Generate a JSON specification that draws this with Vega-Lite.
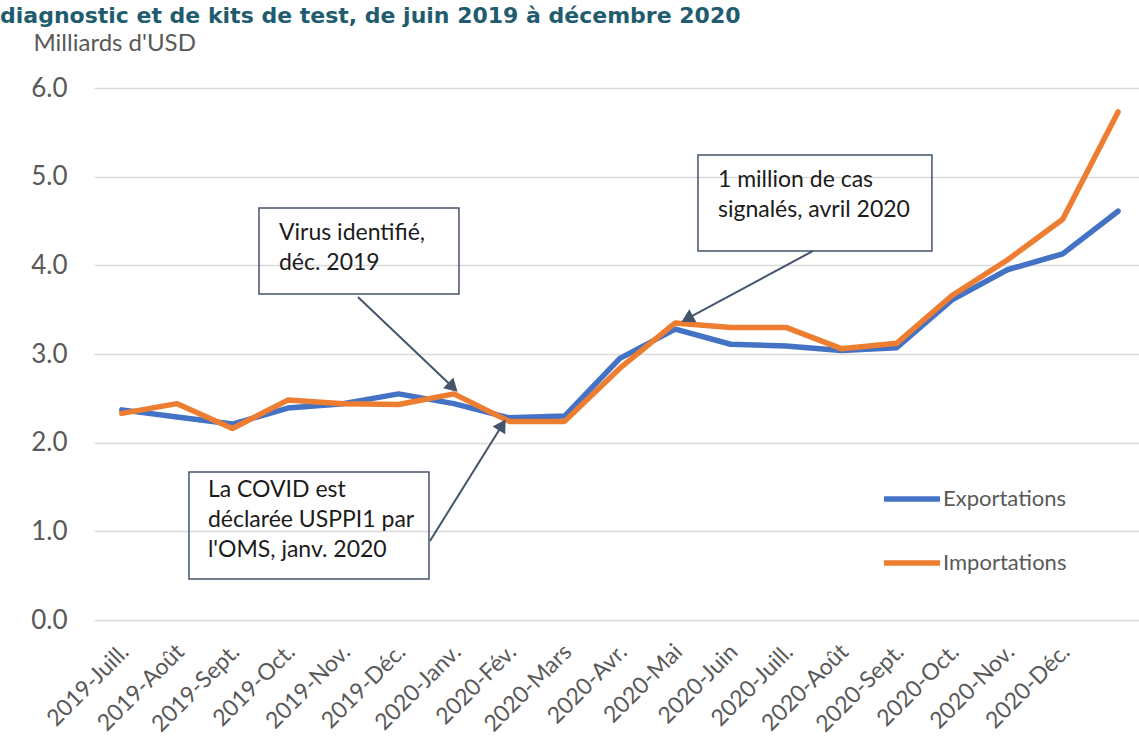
{
  "$schema": "https://vega.github.io/schema/vega-lite/v6.json",
  "width": 1045,
  "height": 532,
  "autosize": {"type": "none"},
  "padding": {"left": 94, "top": 88, "right": 0, "bottom": 120},
  "background": "white",
  "title": {
    "text": "diagnostic et de kits de test, de juin 2019 à décembre 2020",
    "anchor": "start",
    "frame": "group",
    "font": "DejaVu Sans",
    "fontSize": 22,
    "fontWeight": "bold",
    "color": "#1f5c6e",
    "baseline": "alphabetic",
    "dx": -94,
    "dy": 24,
    "offset": 10
  },
  "config": {
    "view": {"stroke": null},
    "font": "Lato",
    "legend": {
      "orient": "none",
      "legendX": 787,
      "legendY": 380,
      "title": null,
      "symbolType": "stroke",
      "symbolSize": 3136,
      "symbolStrokeWidth": 5.5,
      "labelFont": "Lato",
      "labelFontSize": 22,
      "labelColor": "#595959",
      "labelOffset": 0,
      "rowPadding": 22
    }
  },
  "datasets": {
    "series": [
      {"mois": "2019-Juill.", "serie": "Exportations", "valeur": 2.37},
      {"mois": "2019-Août", "serie": "Exportations", "valeur": 2.29},
      {"mois": "2019-Sept.", "serie": "Exportations", "valeur": 2.21},
      {"mois": "2019-Oct.", "serie": "Exportations", "valeur": 2.39},
      {"mois": "2019-Nov.", "serie": "Exportations", "valeur": 2.44},
      {"mois": "2019-Déc.", "serie": "Exportations", "valeur": 2.55},
      {"mois": "2020-Janv.", "serie": "Exportations", "valeur": 2.44},
      {"mois": "2020-Fév.", "serie": "Exportations", "valeur": 2.28},
      {"mois": "2020-Mars", "serie": "Exportations", "valeur": 2.30},
      {"mois": "2020-Avr.", "serie": "Exportations", "valeur": 2.95},
      {"mois": "2020-Mai", "serie": "Exportations", "valeur": 3.28},
      {"mois": "2020-Juin", "serie": "Exportations", "valeur": 3.11},
      {"mois": "2020-Juill.", "serie": "Exportations", "valeur": 3.09},
      {"mois": "2020-Août", "serie": "Exportations", "valeur": 3.04},
      {"mois": "2020-Sept.", "serie": "Exportations", "valeur": 3.07},
      {"mois": "2020-Oct.", "serie": "Exportations", "valeur": 3.61},
      {"mois": "2020-Nov.", "serie": "Exportations", "valeur": 3.95},
      {"mois": "2020-Déc.", "serie": "Exportations", "valeur": 4.13},
      {"mois": " ", "serie": "Exportations", "valeur": 4.61},
      {"mois": "2019-Juill.", "serie": "Importations", "valeur": 2.33},
      {"mois": "2019-Août", "serie": "Importations", "valeur": 2.44},
      {"mois": "2019-Sept.", "serie": "Importations", "valeur": 2.16},
      {"mois": "2019-Oct.", "serie": "Importations", "valeur": 2.48},
      {"mois": "2019-Nov.", "serie": "Importations", "valeur": 2.44},
      {"mois": "2019-Déc.", "serie": "Importations", "valeur": 2.43},
      {"mois": "2020-Janv.", "serie": "Importations", "valeur": 2.55},
      {"mois": "2020-Fév.", "serie": "Importations", "valeur": 2.24},
      {"mois": "2020-Mars", "serie": "Importations", "valeur": 2.24},
      {"mois": "2020-Avr.", "serie": "Importations", "valeur": 2.84},
      {"mois": "2020-Mai", "serie": "Importations", "valeur": 3.35},
      {"mois": "2020-Juin", "serie": "Importations", "valeur": 3.30},
      {"mois": "2020-Juill.", "serie": "Importations", "valeur": 3.30},
      {"mois": "2020-Août", "serie": "Importations", "valeur": 3.06},
      {"mois": "2020-Sept.", "serie": "Importations", "valeur": 3.12},
      {"mois": "2020-Oct.", "serie": "Importations", "valeur": 3.66},
      {"mois": "2020-Nov.", "serie": "Importations", "valeur": 4.06},
      {"mois": "2020-Déc.", "serie": "Importations", "valeur": 4.52},
      {"mois": " ", "serie": "Importations", "valeur": 5.73}
    ],
    "boites": [
      {"x1": 2.481, "x2": 6.094, "y1": 4.646, "y2": 3.677},
      {"x1": 10.412, "x2": 14.639, "y1": 5.244, "y2": 4.162},
      {"x1": 1.216, "x2": 5.552, "y1": 1.669, "y2": 0.462}
    ],
    "textes": [
      {"ax": 2.842, "ay": 4.286, "texte": "Virus identifié,\ndéc. 2019"},
      {"ax": 10.773, "ay": 4.883, "texte": "1 million de cas\nsignalés, avril 2020"},
      {"ax": 1.558, "ay": 1.387, "texte": "La COVID est\ndéclarée USPPI1 par\nl'OMS, janv. 2020"}
    ],
    "fleches": [
      {"x1": 4.268, "y1": 3.643, "x2": 5.984, "y2": 2.625, "angle": 133.5},
      {"x1": 5.570, "y1": 0.891, "x2": 6.876, "y2": 2.200, "angle": 31.9},
      {"x1": 12.490, "y1": 4.162, "x2": 10.217, "y2": 3.398, "angle": 241.7}
    ]
  },
  "layer": [
    {
      "data": {"name": "series"},
      "mark": {"type": "line", "strokeWidth": 5.5, "strokeCap": "round", "strokeJoin": "round"},
      "encoding": {
        "x": {
          "field": "mois",
          "type": "ordinal",
          "sort": null,
          "scale": {"type": "point", "padding": 0.44, "align": 0.57},
          "axis": {
            "title": null,
            "labelAngle": -45,
            "labelAlign": "right",
            "labelBaseline": "middle",
            "labelFont": "Lato",
            "labelFontSize": 23,
            "labelColor": "#595959",
            "labelPadding": 28,
            "labelOffset": 3,
            "labelOverlap": false,
            "ticks": false,
            "domain": false,
            "grid": false
          }
        },
        "y": {
          "field": "valeur",
          "type": "quantitative",
          "scale": {"domain": [0, 6], "nice": false, "zero": true},
          "axis": {
            "title": "Milliards d'USD",
            "titleAngle": 0,
            "titleX": -61,
            "titleY": -38,
            "titleAlign": "left",
            "titleBaseline": "alphabetic",
            "titleFont": "Lato",
            "titleFontSize": 24,
            "titleFontWeight": "normal",
            "titleColor": "#595959",
            "values": [0, 1, 2, 3, 4, 5, 6],
            "format": ".1f",
            "labelFont": "Lato",
            "labelFontSize": 26,
            "labelColor": "#595959",
            "labelPadding": 27,
            "ticks": false,
            "tickSize": 0,
            "domain": false,
            "grid": true,
            "gridColor": "#d9d9d9",
            "gridWidth": 1.5
          }
        },
        "color": {
          "field": "serie",
          "type": "nominal",
          "scale": {"domain": ["Exportations", "Importations"], "range": ["#4472c4", "#ed7d31"]},
          "legend": {}
        }
      }
    },
    {
      "data": {"name": "boites"},
      "mark": {"type": "rect", "fill": null, "stroke": "#44546a", "strokeWidth": 1.5},
      "encoding": {
        "x": {"field": "x1", "type": "quantitative", "scale": {"domain": [-0.5, 18.38], "nice": false, "zero": false}, "axis": null},
        "x2": {"field": "x2"},
        "y": {"field": "y1", "type": "quantitative"},
        "y2": {"field": "y2"}
      }
    },
    {
      "data": {"name": "textes"},
      "mark": {"type": "text", "align": "left", "baseline": "alphabetic", "lineBreak": "\n", "lineHeight": 30, "font": "Lato", "fontSize": 23, "color": "#1b1b1b"},
      "encoding": {
        "x": {"field": "ax", "type": "quantitative", "scale": {"domain": [-0.5, 18.38], "nice": false, "zero": false}, "axis": null},
        "y": {"field": "ay", "type": "quantitative"},
        "text": {"field": "texte"}
      }
    },
    {
      "data": {"name": "fleches"},
      "mark": {"type": "rule", "stroke": "#44546a", "strokeWidth": 2},
      "encoding": {
        "x": {"field": "x1", "type": "quantitative", "scale": {"domain": [-0.5, 18.38], "nice": false, "zero": false}, "axis": null},
        "x2": {"field": "x2"},
        "y": {"field": "y1", "type": "quantitative"},
        "y2": {"field": "y2"}
      }
    },
    {
      "data": {"name": "fleches"},
      "mark": {"type": "point", "shape": "triangle-up", "filled": true, "size": 220, "color": "#44546a", "opacity": 1},
      "encoding": {
        "x": {"field": "x2", "type": "quantitative", "scale": {"domain": [-0.5, 18.38], "nice": false, "zero": false}, "axis": null},
        "y": {"field": "y2", "type": "quantitative"},
        "angle": {"field": "angle", "type": "quantitative", "scale": null}
      }
    }
  ],
  "resolve": {"scale": {"x": "independent"}, "axis": {"x": "independent"}}
}
